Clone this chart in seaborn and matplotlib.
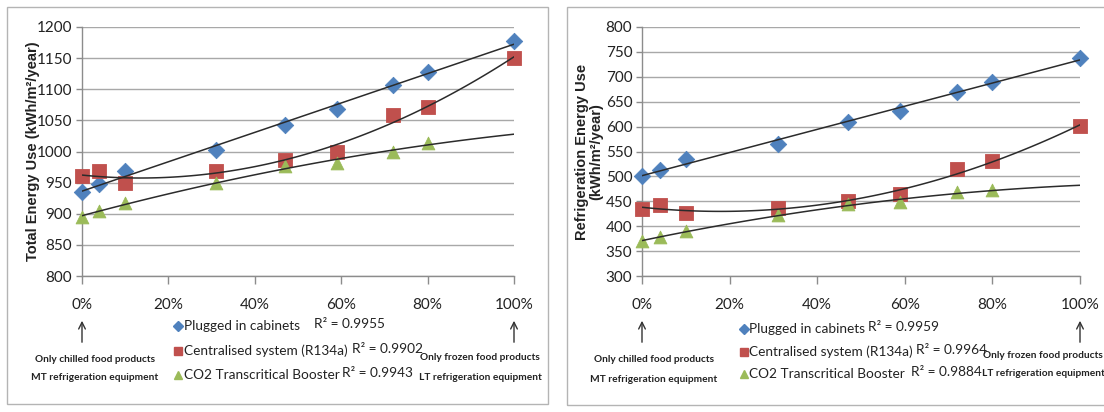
import numpy as np
import pandas as pd
import matplotlib
matplotlib.use("Agg")
import matplotlib.pyplot as plt
import seaborn as sns
from matplotlib.ticker import PercentFormatter, MultipleLocator
from matplotlib.lines import Line2D
from matplotlib.patches import Rectangle

# ---------------- data ----------------
frozen_share = [0.00, 0.04, 0.10, 0.31, 0.47, 0.59, 0.72, 0.80, 1.00]
co2_share = [0.00, 0.04, 0.10, 0.31, 0.47, 0.59, 0.72, 0.80]

total_plugged = [935, 948, 969, 1003, 1043, 1068, 1107, 1128, 1177]
total_central = [960, 968, 950, 969, 987, 1000, 1058, 1072, 1150]
total_co2 = [895, 904, 917, 950, 976, 982, 1000, 1014]
total_r2 = ["0.9955", "0.9902", "0.9943"]

refr_plugged = [500, 513, 534, 565, 609, 631, 670, 690, 738]
refr_central = [435, 442, 427, 436, 450, 465, 515, 530, 601]
refr_co2 = [370, 378, 390, 422, 444, 448, 468, 472]
refr_r2 = ["0.9959", "0.9964", "0.9884"]

series_names = ["Plugged in cabinets", "Centralised system (R134a)", "CO2 Transcritical Booster"]
series_colors = ["#4F81BD", "#C0504D", "#9BBB59"]
series_markers = ["D", "s", "^"]
trend_orders = [1, 2, 2]

# ---------------- style ----------------
sns.set_theme(style="white")
MAIN = ["Lato", "DejaVu Sans"]
plt.rcParams["font.family"] = MAIN

W, H = 1104, 412
fig = plt.figure(figsize=(W / 100, H / 100), dpi=100)


def fx(px):
    return px / W


def fy(py):
    return 1 - py / H


# panel frames
fig.add_artist(Rectangle((fx(7), fy(404)), fx(548) - fx(7), fy(7) - fy(404),
                         transform=fig.transFigure, fill=False, ec="#b4b4b4", lw=1.0))
fig.add_artist(Rectangle((fx(567), fy(405)), fx(1110) - fx(567), fy(7) - fy(405),
                         transform=fig.transFigure, fill=False, ec="#b4b4b4", lw=1.0))

ax1 = fig.add_axes([fx(82), fy(276), fx(514) - fx(82), fy(27) - fy(276)])
ax2 = fig.add_axes([fx(642), fy(276), fx(1080) - fx(642), fy(27) - fy(276)])

sizes = [70, 90, 85]


def draw(ax, series, ylim):
    ax.set_xlim(0, 1)
    ax.set_ylim(*ylim)
    for vals, xs, color, marker, order, s in zip(series, [frozen_share, frozen_share, co2_share],
                                                  series_colors, series_markers, trend_orders, sizes):
        df = pd.DataFrame({"share": xs, "energy": vals})
        sns.scatterplot(data=df, x="share", y="energy", marker=marker, color=color, s=s,
                        edgecolor=color, linewidth=0.6, ax=ax, zorder=3, clip_on=False, legend=False)
        sns.regplot(data=df, x="share", y="energy", order=order, ci=None, scatter=False,
                    truncate=False, ax=ax,
                    line_kws=dict(color="#2b2b2b", lw=1.1, zorder=4))
    ax.set_xlim(0, 1)
    ax.set_ylim(*ylim)
    ax.xaxis.set_major_locator(MultipleLocator(0.2))
    ax.xaxis.set_major_formatter(PercentFormatter(xmax=1, decimals=0))
    ax.yaxis.set_major_locator(MultipleLocator(50))
    ax.yaxis.grid(True, color="#a8a8a8", lw=1.0)
    ax.xaxis.grid(False)
    ax.set_axisbelow(True)
    for sp in ["top", "right"]:
        ax.spines[sp].set_visible(False)
    for sp in ["left", "bottom"]:
        ax.spines[sp].set_color("#8c8c8c")
        ax.spines[sp].set_linewidth(1.0)
    ax.tick_params(axis="y", which="major", left=True, length=4, width=1, color="#8c8c8c",
                   direction="out", labelsize=11, labelcolor="#222222", pad=3)
    ax.tick_params(axis="x", which="major", bottom=True, length=6, width=1, color="#8c8c8c",
                   direction="out", labelsize=11, labelcolor="#222222", pad=10)
    ax.set_xlabel("")


draw(ax1, [total_plugged, total_central, total_co2], (800, 1200))
draw(ax2, [refr_plugged, refr_central, refr_co2], (300, 800))

ax1.set_ylabel("Total Energy Use (kWh/m²/year)", fontsize=10.5, fontweight="bold",
               family=["Liberation Sans", "DejaVu Sans"], color="#222222")
ax1.yaxis.set_label_coords((40 - 82) / 432, 0.5)
ax2.set_ylabel("Refrigeration Energy Use\n(kWh/m²/year)", fontsize=10.5, fontweight="bold",
               family=["Liberation Sans", "DejaVu Sans"], color="#222222", linespacing=1.0)
ax2.yaxis.set_label_coords((603 - 642) / 438, 0.5)

# ---------------- legends with R² ----------------
LEG_FS = 9.8
fig.canvas.draw()
renderer = fig.canvas.get_renderer()


def legend_block(marker_x, text_x, rows_y, r2_x, r2_vals, gaps):
    for i in range(3):
        y = rows_y[i]
        fig.add_artist(Line2D([fx(marker_x)], [fy(y)], transform=fig.transFigure,
                              marker=series_markers[i], color=series_colors[i],
                              markersize=6 if i != 0 else 5.5, linestyle=""))
        t = fig.text(fx(text_x), fy(y), series_names[i], fontsize=LEG_FS, va="center", ha="left",
                     color="#222222")
        end_px = t.get_window_extent(renderer).x1
        x_r2 = max(r2_x[i], end_px + gaps[i])
        fig.text(fx(x_r2), fy(y - 2), "R² = " + r2_vals[i], fontsize=LEG_FS, va="center",
                 ha="left", color="#222222")


legend_block(178, 184, [326, 351, 375], [306, 299, 306], total_r2, [14, 4, 2])
legend_block(744, 749, [329, 352, 374], [854, 908, 895], refr_r2, [3, 3, 6])

# ---------------- annotations ----------------
NOTE_KW = dict(fontsize=7.3, fontweight="bold", ha="center", va="center", color="#222222")


def note(ax, xdata, text_cx, y1, y2, l1, l2):
    ax.annotate("", xy=(xdata, (276 - 318) / 249), xytext=(xdata, (276 - 345) / 249),
                xycoords=ax.get_xaxis_transform(), textcoords=ax.get_xaxis_transform(),
                annotation_clip=False,
                arrowprops=dict(arrowstyle="->", color="#333333", lw=1.0, mutation_scale=12))
    fig.text(fx(text_cx), fy(y1), l1, **NOTE_KW)
    fig.text(fx(text_cx), fy(y2), l2, **NOTE_KW)


note(ax1, 0.0, 95, 359, 378, "Only chilled food products", "MT refrigeration equipment")
note(ax1, 1.0, 480, 358, 378, "Only frozen food products", "LT refrigeration equipment")
note(ax2, 0.0, 654, 359, 379, "Only chilled food products", "MT refrigeration equipment")
note(ax2, 1.0, 1043, 355, 373, "Only frozen food products", "LT refrigeration equipment")

fig.savefig("out.png", dpi=100)
